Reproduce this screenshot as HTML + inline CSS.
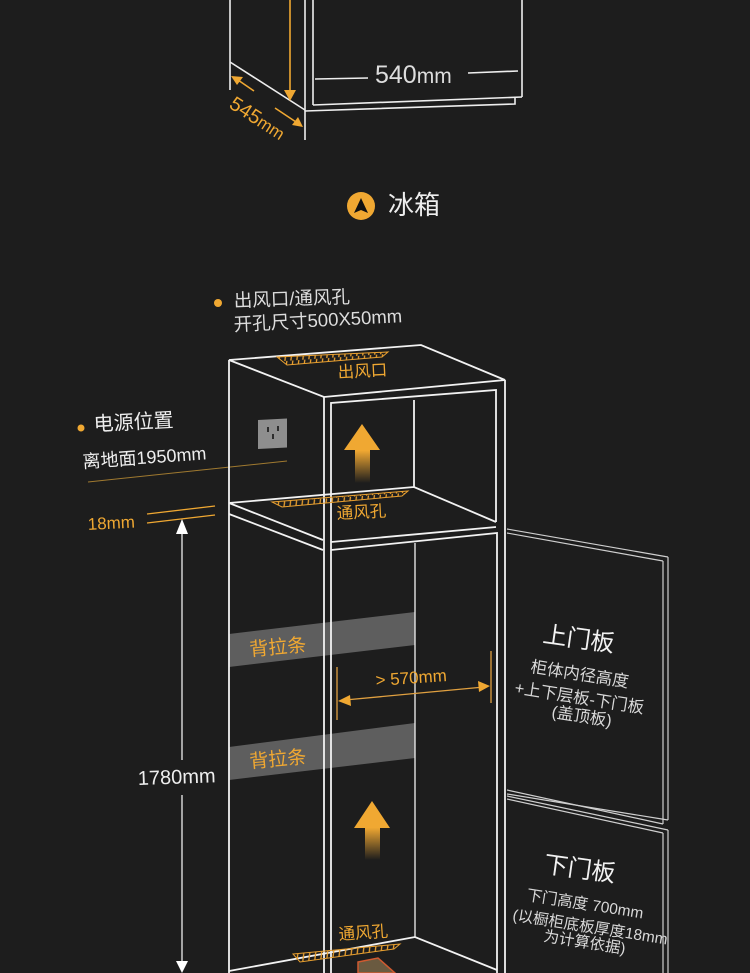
<!DOCTYPE html>
<html><head><meta charset="utf-8"><style>
html,body{margin:0;padding:0;background:#1d1d1d;}
svg{display:block;}
text{font-family:"Liberation Sans","Noto Sans CJK SC",sans-serif;}
</style></head><body>
<svg width="750" height="973" viewBox="0 0 750 973" xmlns="http://www.w3.org/2000/svg">
<defs>
<linearGradient id="ag" x1="0" y1="0" x2="0" y2="1">
<stop offset="0" stop-color="#f0a832"/><stop offset="0.45" stop-color="#f0a832"/><stop offset="1" stop-color="#f0a832" stop-opacity="0"/>
</linearGradient>
<pattern id="hatch" width="6" height="10" patternUnits="userSpaceOnUse" patternTransform="rotate(-4)">
<line x1="3" y1="0" x2="1" y2="10" stroke="#e9a030" stroke-width="1.3"/>
</pattern>
</defs>
<rect width="750" height="973" fill="#1d1d1d"/>

<!-- top fridge bits -->
<g stroke="#eee" stroke-width="1.6" fill="none">
<line x1="230" y1="0" x2="230" y2="90"/>
<line x1="230" y1="62" x2="305" y2="110"/>
<line x1="305" y1="0" x2="305" y2="140"/>
<line x1="313" y1="0" x2="313" y2="105"/>
<line x1="522" y1="0" x2="522" y2="97"/>
<line x1="313" y1="105" x2="522" y2="97"/>
<polyline points="305,111 515,104 515,97"/>
<line x1="315" y1="79" x2="368" y2="78"/>
<line x1="468" y1="73" x2="518" y2="71"/>
</g>
<text x="375" y="83" fill="#ddd" font-size="25">540<tspan font-size="21">mm</tspan></text>
<line x1="290" y1="0" x2="290" y2="94" stroke="#f0a832" stroke-width="1.6"/>
<polygon points="284,90 296,90 290,101" fill="#f0a832"/>
<line x1="254" y1="91" x2="238" y2="80" stroke="#f0a832" stroke-width="1.6"/>
<polygon points="231,76 243,77 237,85" fill="#f0a832"/>
<line x1="275" y1="108" x2="296" y2="122" stroke="#f0a832" stroke-width="1.6"/>
<polygon points="303,127 292,125 298,117" fill="#f0a832"/>
<text transform="translate(228,107) rotate(33)" fill="#f0a832" font-size="20">545<tspan font-size="17">mm</tspan></text>

<circle cx="361" cy="206" r="14" fill="#f0a832"/>
<polygon points="361,198 368,213 361,210 354,213" fill="#111"/>
<text x="388" y="214" fill="#eee" font-size="26">冰箱</text>

<!-- labels -->
<circle cx="218" cy="303" r="4" fill="#f0a832"/>
<text x="234" y="307" fill="#ddd" font-size="18.5" transform="rotate(-2 234 307)">出风口/通风孔</text>
<text x="234" y="331" fill="#ddd" font-size="18.5" transform="rotate(-3 234 331)">开孔尺寸500X50mm</text>
<circle cx="81" cy="428" r="3.5" fill="#f0a832"/>
<text x="94" y="431" fill="#eee" font-size="20" transform="rotate(-3 94 431)">电源位置</text>
<text x="83" y="468" fill="#eee" font-size="18" transform="rotate(-4 83 468)">离地面1950mm</text>
<line x1="88" y1="482" x2="287" y2="461" stroke="#a07a30" stroke-width="1"/>
<text x="88" y="530" fill="#f0a832" font-size="17" transform="rotate(-3 88 530)">18mm</text>
<line x1="147" y1="514" x2="215" y2="506" stroke="#f0a832" stroke-width="1.3"/>
<line x1="147" y1="523" x2="215" y2="515" stroke="#f0a832" stroke-width="1.3"/>
<line x1="182" y1="530" x2="182" y2="760" stroke="#eee" stroke-width="1.3"/>
<line x1="182" y1="795" x2="182" y2="963" stroke="#eee" stroke-width="1.3"/>
<polygon points="176,534 188,534 182,519" fill="#fff"/>
<polygon points="176,961 188,961 182,973" fill="#fff"/>
<text x="138" y="785" fill="#eee" font-size="20" transform="rotate(-2 138 785)">1780mm</text>

<!-- back strips -->
<polygon points="229,634 415,612 415,645 229,667" fill="#5e5e5e"/>
<polygon points="229,747 415,723 415,758 229,780" fill="#5e5e5e"/>
<text x="250" y="656" fill="#f0a832" font-size="19" transform="rotate(-5 250 656)">背拉条</text>
<text x="250" y="768" fill="#f0a832" font-size="19" transform="rotate(-5 250 768)">背拉条</text>

<!-- cabinet -->
<g stroke="#f2f2f2" stroke-width="1.8" fill="none">
<polygon points="229,360 421,345 505,380 324,397"/>
<line x1="229" y1="360" x2="229" y2="973"/>
<line x1="324" y1="397" x2="324" y2="973"/>
<line x1="505" y1="380" x2="505" y2="973"/>
<polyline points="331,973 331,403 496,390 496,522"/>
<line x1="414" y1="400" x2="414" y2="487"/>
<polyline points="229,503 414,487 496,522"/>
<line x1="331" y1="542" x2="496" y2="527"/>
<line x1="229" y1="503" x2="323" y2="540"/>
<line x1="229" y1="514" x2="323" y2="550"/>
<polyline points="331,550 497,533 497,973"/>
<line x1="415" y1="543" x2="415" y2="937" stroke-width="1.3"/>
<polyline points="229,971 415,937 497,970"/>
</g>

<!-- socket -->
<rect x="258" y="420" width="29" height="29" fill="#8e8e8e" transform="skewY(-3)" transform-origin="258 420"/>
<g stroke="#222" stroke-width="1.8"><line x1="268" y1="427" x2="268" y2="432"/><line x1="278" y1="426" x2="278" y2="431"/><line x1="273" y1="434" x2="273" y2="439"/></g>

<!-- vents -->
<polygon points="277,357 388,352 382,357 287,365" fill="url(#hatch)" stroke="#e9a030" stroke-width="1"/>
<text x="338" y="378" fill="#f0a832" font-size="16.5" transform="rotate(-3 338 378)">出风口</text>
<polygon points="272,502 408,491 402,496 282,507" fill="url(#hatch)" stroke="#e9a030" stroke-width="1"/>
<text x="337" y="519" fill="#f0a832" font-size="16.5" transform="rotate(-3 337 519)">通风孔</text>
<polygon points="293,954 400,944 394,949 300,962" fill="url(#hatch)" stroke="#e9a030" stroke-width="1"/>
<text x="339" y="940" fill="#f0a832" font-size="16.5" transform="rotate(-4 339 940)">通风孔</text>
<polygon points="358,962 378,958 395,973 358,973" fill="#6a5a40" stroke="#d05a30" stroke-width="1.5"/>

<!-- airflow arrows -->
<polygon points="362,424 380,450 370,450 370,483 355,483 355,450 344,450" fill="url(#ag)"/>
<polygon points="372,801 390,828 380,828 380,860 365,860 365,828 354,828" fill="url(#ag)"/>

<!-- 570 -->
<g stroke="#e0a040" stroke-width="1.3">
<line x1="337" y1="667" x2="337" y2="720"/>
<line x1="491" y1="651" x2="491" y2="703"/>
<line x1="345" y1="700" x2="484" y2="687"/>
</g>
<polygon points="338,701 350,695 351,706" fill="#f0a832"/>
<polygon points="490,686 478,681 479,692" fill="#f0a832"/>
<text x="376" y="686" fill="#f0a832" font-size="17" transform="rotate(-4 376 686)">&gt; 570mm</text>

<!-- doors -->
<g stroke="#cfcfcf" stroke-width="1.2" fill="none">
<line x1="507" y1="529" x2="668" y2="557"/>
<line x1="507" y1="533" x2="663" y2="561"/>
<line x1="663" y1="561" x2="663" y2="824"/>
<line x1="668" y1="557" x2="668" y2="820"/>
<line x1="507" y1="790" x2="663" y2="824"/>
<line x1="507" y1="794" x2="668" y2="820"/>
<line x1="507" y1="796" x2="668" y2="830"/>
<line x1="507" y1="799" x2="663" y2="833"/>
<line x1="663" y1="833" x2="663" y2="973"/>
<line x1="668" y1="830" x2="668" y2="973"/>
</g>
<text x="542" y="642" fill="#f2f2f2" font-size="24" transform="rotate(8 542 642)">上门板</text>
<g fill="#d8d8d8" font-size="16.5">
<text x="530" y="672" transform="rotate(9 530 672)">柜体内径高度</text>
<text x="514" y="693" transform="rotate(9 514 693)">+上下层板-下门板</text>
<text x="551" y="717" transform="rotate(9 551 717)">(盖顶板)</text>
</g>
<text x="543" y="872" fill="#f2f2f2" font-size="24" transform="rotate(8 543 872)">下门板</text>
<g fill="#d8d8d8" font-size="15.5">
<text x="526" y="900" transform="rotate(9 526 900)">下门高度 700mm</text>
<text x="512" y="920" transform="rotate(9 512 920)">(以橱柜底板厚度18mm</text>
<text x="543" y="941" transform="rotate(9 543 941)">为计算依据)</text>
</g>
</svg>
</body></html>
